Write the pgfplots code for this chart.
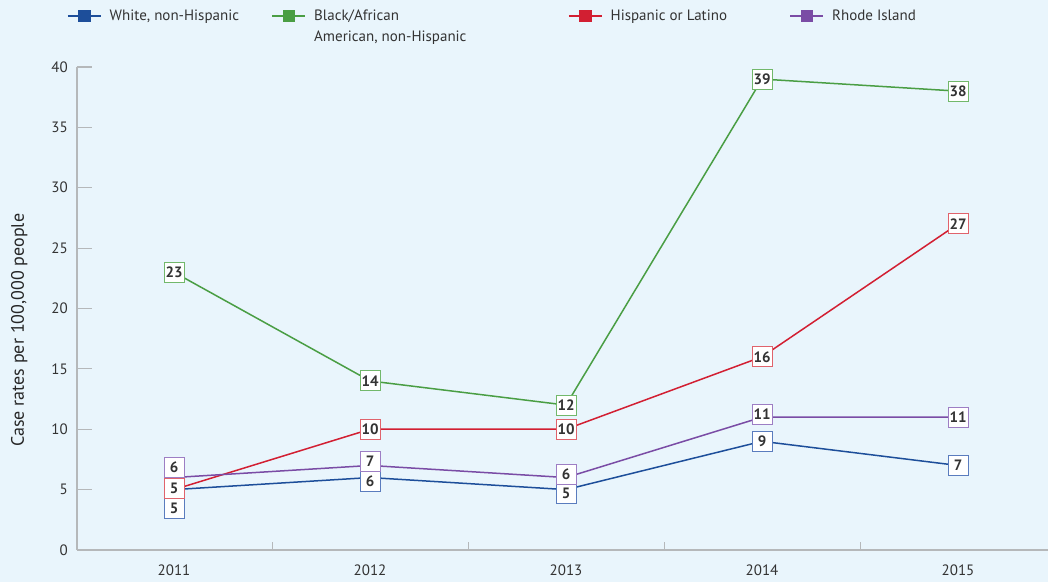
\documentclass[border=0pt]{standalone}
\usepackage{pgfplots}
\pgfplotsset{compat=1.18}
\usepackage{pgfplotstable}
\usepackage{fontspec}
\setmainfont{PT Sans}
\usetikzlibrary{backgrounds}

\definecolor{bgC}{HTML}{E9F5FC}
\definecolor{axisC}{HTML}{B5B8BA}
\definecolor{textC}{HTML}{333333}
\definecolor{whiteC}{HTML}{1D4E9A}
\definecolor{blackC}{HTML}{4A9E44}
\definecolor{hispC}{HTML}{D21F32}
\definecolor{riC}{HTML}{7A4CA5}
\definecolor{whiteB}{HTML}{5A7CBE}
\definecolor{blackB}{HTML}{72B86B}
\definecolor{hispB}{HTML}{E0636C}
\definecolor{riB}{HTML}{9D7EC4}

% year, rate, vertical shift of the label box (pt)
\pgfplotstableread{
year rate dy
2011 5 -18.5
2012 6 -3.5
2013 5 -4
2014 9 0
2015 7 0
}\whiteT
\pgfplotstableread{
year rate dy
2011 23 0
2012 14 0
2013 12 0
2014 39 0
2015 38 0
}\blackT
\pgfplotstableread{
year rate dy
2011 5 1
2012 10 0
2013 10 0
2014 16 0
2015 27 0
}\hispT
\pgfplotstableread{
year rate dy
2011 6 10.5
2012 7 4
2013 6 3.5
2014 11 3
2015 11 0
}\riT

\pgfplotsset{
  series/.style={#1, line width=1.5pt, mark=none},
  labels/.style={
    draw=none, mark=none, forget plot,
    point meta=y,
    nodes near coords={\pgfmathprintnumber{\pgfplotspointmeta}},
    visualization depends on={\thisrow{dy} \as \dy},
    every node near coord/.append style={
      anchor=center, yshift=\dy pt,
      draw=#1, fill=white, line width=1pt,
      minimum width=20pt, minimum height=20pt, inner sep=0pt,
      font=\bfseries\fontsize{15}{15}\selectfont, text=textC},
  },
}

\begin{document}
\begin{tikzpicture}
\begin{axis}[
  scale only axis,
  width=971pt, height=483pt,
  xmin=2010.505, xmax=2015.459,
  ymin=0, ymax=40,
  clip=false,
  axis lines*=left,
  axis line style={draw=axisC, line width=1.2pt},
  xtick={2011,2012,2013,2014,2015},
  xticklabels={2011,2012,2013,2014,2015},
  minor xtick={2011.5,2012.5,2013.5,2014.5},
  ytick={0,5,...,40},
  tick align=inside,
  major tick length=15pt,
  minor tick length=8pt,
  major x tick style={draw=none},
  minor x tick style={draw=axisC, line width=1pt},
  major y tick style={draw=axisC, line width=1.2pt},
  /pgf/number format/assume math mode=true,
  tick label style={font=\fontsize{15}{15}\selectfont, text=textC, inner sep=0pt},
  xticklabel style={anchor=north, yshift=-15pt},
  yticklabel style={anchor=east, xshift=-9pt},
  ylabel={Case rates per 100,000 people},
  ylabel style={at={(axis description cs:0,0.455)}, anchor=base, yshift=53pt,
    font=\fontsize{18}{18}\selectfont, text=black!85},
  legend columns=4,
  legend style={at={(rel axis cs:0,1)}, anchor=west, xshift=-10pt, yshift=51pt,
    draw=none, fill=none, inner sep=0pt,
    font=\fontsize{15}{15}\selectfont, text=textC,
    cells={anchor=west, inner sep=0pt},
    /tikz/every odd column/.style={column sep=6pt},
    /tikz/every even column/.style={column sep=0pt}},
  legend image code/.code={
    \draw[#1, line width=1.5pt] (0pt,0pt) -- (33pt,0pt);
    \fill[#1] (11pt,-5.5pt) rectangle (22pt,5.5pt);},
]
\coordinate (o) at (rel axis cs:0,0);
\coordinate (t) at (rel axis cs:1,1);

\addplot[series=whiteC] table[x=year, y=rate] {\whiteT};
\addlegendentry{\makebox[160pt][l]{White, non-Hispanic}}
\addplot[series=blackC] table[x=year, y=rate] {\blackT};
\addlegendentry{\makebox[252pt][l]{\smash{\rlap{\raisebox{-21pt}{American, non-Hispanic}}}Black/African}}
\addplot[series=hispC] table[x=year, y=rate] {\hispT};
\addlegendentry{\makebox[177pt][l]{Hispanic or Latino}}
\addplot[series=riC] table[x=year, y=rate] {\riT};
\addlegendentry{Rhode Island}

% value boxes on top of all lines
\addplot[labels=whiteB] table[x=year, y=rate] {\whiteT};
\addplot[labels=blackB] table[x=year, y=rate] {\blackT};
\addplot[labels=hispB] table[x=year, y=rate] {\hispT};
\addplot[labels=riB] table[x=year, y=rate] {\riT};
\end{axis}
\pgfresetboundingbox
\begin{scope}[on background layer]
\fill[bgC] ([xshift=-77pt,yshift=-32pt]o) rectangle ([yshift=67pt]t);
\end{scope}
\end{tikzpicture}
\end{document}
